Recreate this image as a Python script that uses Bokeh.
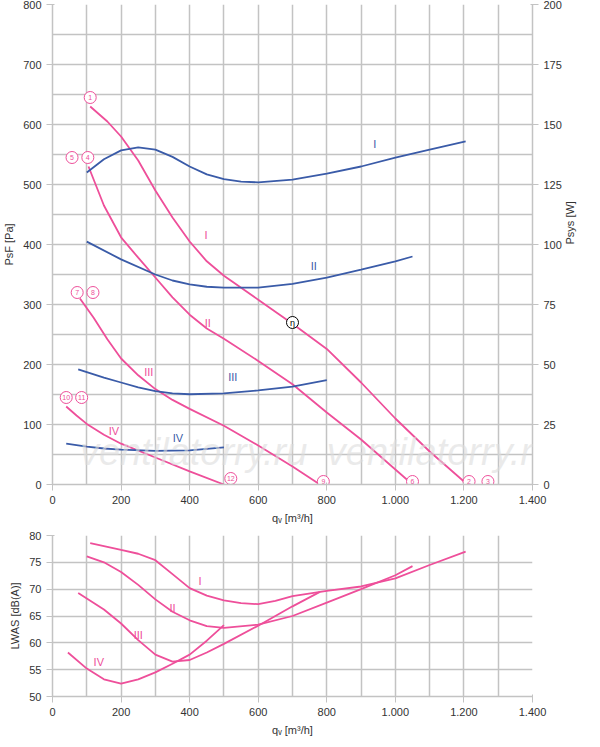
import math
from bokeh.plotting import figure
from bokeh.layouts import column
from bokeh.models import Range1d, LinearAxis, FixedTicker, Label
from bokeh.embed import file_html
from bokeh.resources import INLINE

PINK = "#ee4f9a"
BLUE = "#3a5ba8"
GRID = "#c3c3c3"
FONT = "Liberation Sans"

# pressure curves (q m3/h, Pa)
pI_q = [110, 160, 200, 250, 300, 350, 400, 450, 500, 600, 700, 800, 900, 1000, 1100, 1210]
pI_p = [630, 605, 580, 540, 490, 445, 405, 372, 348, 308, 268, 226, 170, 110, 55, 0]
pII_q = [105, 150, 200, 250, 300, 350, 400, 450, 500, 600, 700, 800, 900, 1050]
pII_p = [530, 465, 412, 378, 345, 312, 283, 260, 243, 206, 167, 120, 75, 0]
pIII_q = [80, 120, 160, 200, 250, 300, 350, 400, 500, 600, 700, 780]
pIII_p = [310, 278, 242, 210, 182, 159, 141, 126, 98, 65, 30, 0]
pIV_q = [40, 70, 100, 150, 200, 300, 400, 500]
pIV_p = [130, 115, 101, 83, 68, 45, 22, 0]

# power curves (q m3/h, W)
wI_q = [100, 150, 200, 250, 300, 350, 400, 450, 500, 550, 600, 700, 800, 900, 1000, 1100, 1205]
wI_w = [130, 135.5, 139.2, 140.5, 139.5, 136.5, 132.5, 129.2, 127.2, 126.2, 125.9, 127, 129.5, 132.5, 136.2, 139.5, 143]
wII_q = [100, 200, 300, 350, 400, 450, 500, 600, 700, 800, 900, 1000, 1050]
wII_w = [101.2, 93.8, 87.5, 85, 83.4, 82.4, 82, 82, 83.6, 86.2, 89.5, 93, 95]
wIII_q = [75, 150, 200, 250, 300, 350, 400, 500, 600, 700, 800]
wIII_w = [48, 44.5, 42.5, 40.5, 38.9, 38, 37.6, 38, 39.2, 40.8, 43.5]
wIV_q = [40, 100, 150, 200, 300, 400, 500]
wIV_w = [17, 15.8, 15, 14.5, 14, 14.2, 15.5]

# sound power (q m3/h, dB(A))
sI_q = [110, 200, 250, 300, 350, 400, 450, 500, 550, 600, 650, 700, 800, 900, 1000, 1100, 1205]
sI_l = [78.6, 77.3, 76.6, 75.4, 72.8, 70.2, 68.8, 67.9, 67.4, 67.2, 67.8, 68.7, 69.7, 70.5, 72, 74.5, 77]
sII_q = [100, 150, 200, 250, 300, 350, 400, 450, 500, 600, 700, 800, 900, 1000, 1050]
sII_l = [76.1, 75, 73.2, 70.8, 68.1, 65.8, 64.2, 63.1, 62.8, 63.4, 65, 67.5, 70, 72.6, 74.3]
sIII_q = [75, 150, 200, 250, 300, 350, 400, 450, 500, 600, 700, 780]
sIII_l = [69.3, 66.2, 63.6, 60.5, 57.8, 56.5, 56.8, 58.2, 59.8, 63.2, 66.8, 69.5]
sIV_q = [45, 100, 150, 200, 250, 300, 350, 400, 450, 500]
sIV_l = [58.2, 55.2, 53.2, 52.4, 53.2, 54.5, 56.1, 57.8, 60.4, 63.3]

x_ticks = [0, 200, 400, 600, 800, 1000, 1200, 1400]
x_labels = ["0", "200", "400", "600", "800", "1.000", "1.200", "1.400"]


def style(p):
    p.xaxis.ticker = FixedTicker(ticks=x_ticks, minor_ticks=list(range(0, 1401, 100)))
    p.xaxis.major_label_overrides = {t: l for t, l in zip(x_ticks, x_labels)}
    p.xgrid.ticker = FixedTicker(ticks=list(range(0, 1401, 100)))
    for g in (p.xgrid, p.ygrid):
        g.grid_line_color = GRID
        g.grid_line_width = 1.5
    p.outline_line_color = None
    for ax in p.axis:
        ax.axis_line_color = GRID
        ax.axis_line_width = 1.5
        ax.major_tick_line_color = GRID
        ax.minor_tick_line_color = None
        ax.major_label_text_font = FONT
        ax.major_label_text_font_size = "11px"
        ax.major_label_text_color = "#333333"
        ax.axis_label_text_font = FONT
        ax.axis_label_text_font_size = "11px"
        ax.axis_label_text_font_style = "normal"
        ax.axis_label_text_color = "#333333"


p = figure(width=584, height=526, x_range=Range1d(0, 1400), y_range=Range1d(0, 800),
           output_backend="svg", toolbar_location=None,
           min_border_left=46, min_border_right=52, min_border_top=4, min_border_bottom=30)
p.extra_y_ranges = {"w": Range1d(0, 200)}
p.yaxis.ticker = FixedTicker(ticks=list(range(0, 801, 100)))
p.ygrid.ticker = FixedTicker(ticks=list(range(0, 801, 50)))
p.yaxis.axis_label = "PsF [Pa]"
p.xaxis.axis_label = "qᵥ [m³/h]"
rax = LinearAxis(y_range_name="w", ticker=FixedTicker(ticks=list(range(0, 201, 25))),
                 axis_label="Psys [W]")
p.add_layout(rax, "right")
style(p)
rax.axis_label_orientation = math.pi / 2

for q, v in [(pI_q, pI_p), (pII_q, pII_p), (pIII_q, pIII_p), (pIV_q, pIV_p)]:
    p.line(q, v, line_color=PINK, line_width=1.8)
for q, v in [(wI_q, wI_w), (wII_q, wII_w), (wIII_q, wIII_w), (wIV_q, wIV_w)]:
    p.line(q, v, line_color=BLUE, line_width=1.8, y_range_name="w")

p.text([940, 762, 526, 366], [567, 364, 179, 78], text=["I", "II", "III", "IV"],
       text_color=BLUE, text_font_size="11px", text_align="center", text_baseline="middle")
p.text([448, 453, 281, 179], [416, 270, 187, 90], text=["I", "II", "III", "IV"],
       text_color=PINK, text_font_size="11px", text_align="center", text_baseline="middle")

cx = [110, 57, 103, 72, 118, 40, 85, 520, 790, 1050, 1215, 1270]
cy = [645, 545, 545, 320, 320, 145, 145, 10, 5, 5, 5, 5]
ct = ["1", "5", "4", "7", "8", "10", "11", "12", "9", "6", "2", "3"]
p.scatter(cx, cy, size=12, fill_color="white", line_color=PINK, line_width=1)
p.text(cx, cy, text=ct, text_color=PINK, text_font_size="7px",
       text_align="center", text_baseline="middle")
p.scatter([700], [270], size=12, fill_color="white", line_color="black", line_width=1)
p.text([700], [270], text=["η"], text_color="black", text_font_size="9px",
       text_align="center", text_baseline="middle")

for wx, wy in [(80, 20), (800, 20)]:
    p.add_layout(Label(x=wx, y=wy, text="ventilatorry.ru", text_font_size="38px",
                       text_font_style="italic", text_color="#dddddd", text_alpha=0.6))
p.add_layout(Label(x=1385, y=790, text="86732", angle=-math.pi / 2, text_font_size="11px",
                   text_color="#333333", x_offset=45))

b = figure(width=584, height=212, x_range=Range1d(0, 1400), y_range=Range1d(50, 80),
           output_backend="svg", toolbar_location=None,
           min_border_left=46, min_border_right=52, min_border_top=9, min_border_bottom=38)
b.yaxis.ticker = FixedTicker(ticks=list(range(50, 81, 5)))
b.ygrid.ticker = FixedTicker(ticks=list(range(50, 81, 5)))
b.yaxis.axis_label = "LWAS [dB(A)]"
b.xaxis.axis_label = "qᵥ [m³/h]"
style(b)
for q, v in [(sI_q, sI_l), (sII_q, sII_l), (sIII_q, sIII_l), (sIV_q, sIV_l)]:
    b.line(q, v, line_color=PINK, line_width=1.8)
b.text([430, 350, 250, 135], [71.5, 66.5, 61.5, 56.5], text=["I", "II", "III", "IV"],
       text_color=PINK, text_font_size="11px", text_align="center", text_baseline="middle")

lay = column(p, b, spacing=0)
open("out.html", "w").write(file_html(lay, INLINE))
